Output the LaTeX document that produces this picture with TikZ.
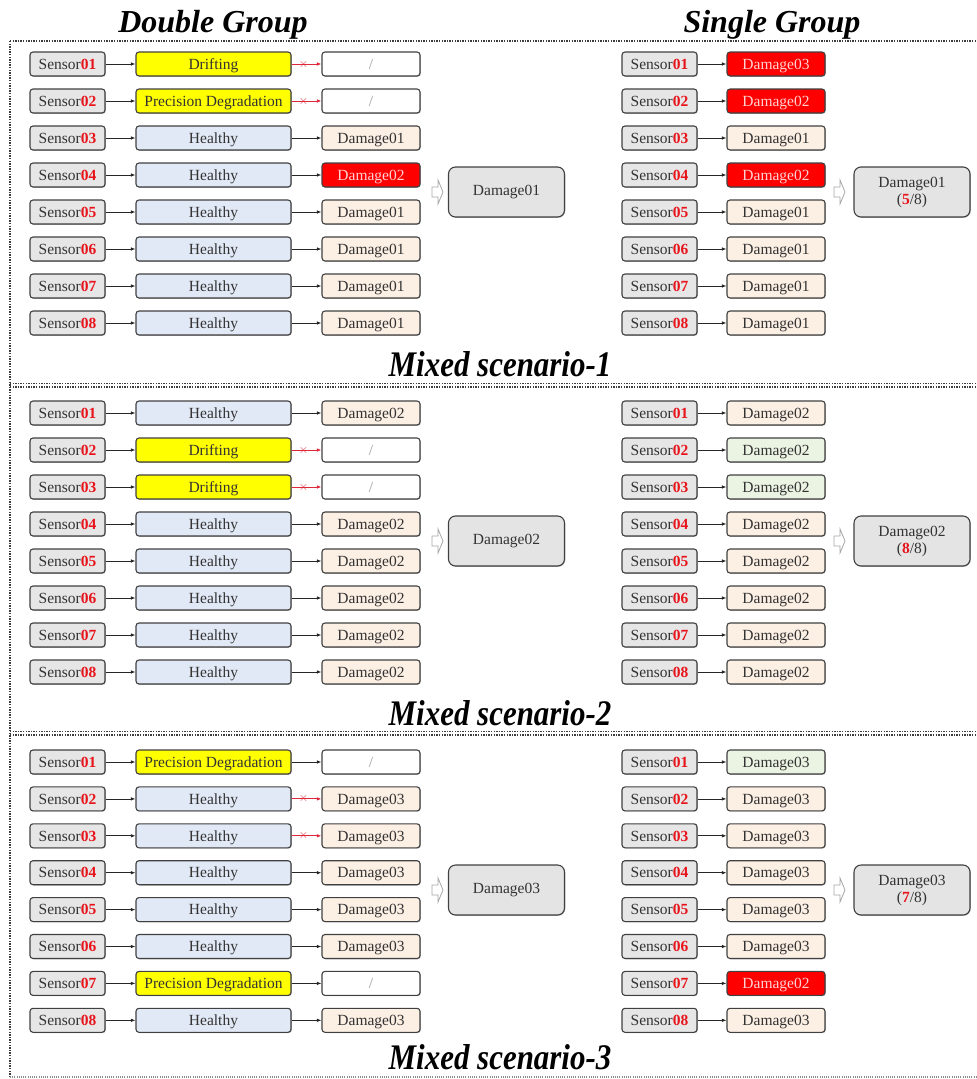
\documentclass[tikz,border=0pt]{standalone}
\usepackage{fontspec}
\setmainfont{Liberation Serif}
\usetikzlibrary{arrows.meta,shadows}
\definecolor{cgray}{HTML}{E6E6E6}
\definecolor{cfinal}{HTML}{E4E4E4}
\definecolor{cblue}{HTML}{E2E9F6}
\definecolor{cyellow}{HTML}{FFFF00}
\definecolor{cpeach}{HTML}{FCEFE4}
\definecolor{cgreen}{HTML}{EBF4E3}
\definecolor{cred}{HTML}{FF0000}
\definecolor{cnum}{HTML}{E8141C}
\definecolor{ctxt}{HTML}{333333}
\definecolor{cpink}{HTML}{FFD2D2}
\definecolor{cslash}{HTML}{A0A0A0}
\definecolor{cframe}{HTML}{3C3C3C}
\definecolor{cbad}{HTML}{E0283A}
\newcommand\sens[1]{Sensor\textbf{\textcolor{cnum}{0#1}}}
\newcommand\slashmark{\textcolor{cslash}{/}}
\newcommand\hollowarrow[2]{%
  \draw[draw=black!35,fill=white,line width=0.8pt]
    (#1,#2-5) -- (#1+6,#2-5) -- (#1+6,#2-12) -- (#1+11,#2) -- (#1+6,#2+12) -- (#1+6,#2+5) -- (#1,#2+5) -- cycle;}
\begin{document}
\begin{tikzpicture}[x=1pt,y=-1pt,
  box/.style={draw=black!75, line width=1.1pt, rounded corners=3pt, minimum height=24pt,
    inner sep=0pt, text height=10.5pt, text depth=0pt, font=\fontsize{15.5}{18}\selectfont, text=ctxt,
    drop shadow={shadow xshift=0.8pt, shadow yshift=-0.8pt, fill=black, opacity=0.25}},
  sensor/.style={box, fill=cgray, minimum width=75pt},
  status/.style={box, minimum width=155pt},
  dmg/.style={box, minimum width=98pt},
  final/.style={box, minimum width=116pt, minimum height=50pt, rounded corners=7pt, fill=cfinal, align=center,
    text height=, text depth=, font=\fontsize{15.5}{17}\selectfont},
  okarrow/.style={-{Latex[length=4.5pt,width=3.5pt]}, line width=0.8pt, black!85},
  badarrow/.style={-{Latex[length=4.5pt,width=3.5pt]}, line width=0.9pt, cbad},
  cross/.style={pos=0.4, inner sep=0pt, text=cbad, font=\fontsize{12}{12}\selectfont},
  ttl/.style={font=\fontsize{32}{32}\selectfont\bfseries\itshape, text=black, inner sep=0pt, anchor=base},
  scen/.style={font=\fontsize{36}{36}\selectfont\bfseries\itshape, text=black, inner sep=0pt, anchor=base},
  frame/.style={cframe, line width=1.8pt, dash pattern=on 1.3pt off 1.3pt}
]
\useasboundingbox (0,0) rectangle (977,1079);
% titles
\node[ttl] (tdouble) at (213,32) {Double Group};
\node[ttl] (tsingle) at (772,32) {Single Group};
\node[scen] (m1) at (500,376) {\scalebox{0.86}[1]{Mixed scenario-1}};
\node[scen] (m2) at (500,725) {\scalebox{0.86}[1]{Mixed scenario-2}};
\node[scen] (m3) at (500,1069) {\scalebox{0.86}[1]{Mixed scenario-3}};
% frame
\draw[frame] (10,41) -- (977,41);
\draw[frame] (10,41) -- (10,1077);
\draw[frame] (10,383.5) -- (977,383.5);
\draw[frame] (10,387) -- (977,387);
\draw[frame] (10,731.5) -- (977,731.5);
\draw[frame] (10,735) -- (977,735);
\draw[black!45, line width=1.1pt, dash pattern=on 1pt off 1.2pt] (10,1077) -- (977,1077);

% ---------- Section 1 ----------
\def\yz{64}
\foreach \i/\st/\sf/\dt/\df/\dtc/\x in {
  1/Drifting/cyellow/\slashmark/white/ctxt/1,
  2/Precision Degradation/cyellow/\slashmark/white/ctxt/1,
  3/Healthy/cblue/Damage01/cpeach/ctxt/0,
  4/Healthy/cblue/Damage02/cred/cpink/0,
  5/Healthy/cblue/Damage01/cpeach/ctxt/0,
  6/Healthy/cblue/Damage01/cpeach/ctxt/0,
  7/Healthy/cblue/Damage01/cpeach/ctxt/0,
  8/Healthy/cblue/Damage01/cpeach/ctxt/0}{
  \pgfmathsetmacro\yy{\yz+37*(\i-1)}
  \node[sensor] (a1s\i) at (67.5,\yy) {\sens{\i}};
  \node[status, fill=\sf] (a1t\i) at (213.5,\yy) {\st};
  \node[dmg, fill=\df, text=\dtc] (a1d\i) at (371,\yy) {\dt};
  \draw[okarrow] (a1s\i) -- (a1t\i);
  \ifnum\x=1
    \draw[badarrow] (a1t\i) -- (a1d\i) node[cross] {$\times$};
  \else
    \draw[okarrow] (a1t\i) -- (a1d\i);
  \fi
}
\foreach \i/\dt/\df/\dtc in {
  1/Damage03/cred/cpink, 2/Damage02/cred/cpink, 3/Damage01/cpeach/ctxt, 4/Damage02/cred/cpink,
  5/Damage01/cpeach/ctxt, 6/Damage01/cpeach/ctxt, 7/Damage01/cpeach/ctxt, 8/Damage01/cpeach/ctxt}{
  \pgfmathsetmacro\yy{\yz+37*(\i-1)}
  \node[sensor] (b1s\i) at (659.5,\yy) {\sens{\i}};
  \node[dmg, fill=\df, text=\dtc] (b1d\i) at (776,\yy) {\dt};
  \draw[okarrow] (b1s\i) -- (b1d\i);
}
\hollowarrow{432}{192}
\node[final] (a1f) at (506.5,192) {Damage01};
\hollowarrow{834}{192}
\node[final] (b1f) at (912,192) {Damage01\\(\textbf{\textcolor{cnum}{5}}/8)};

% ---------- Section 2 ----------
\def\yz{413}
\foreach \i/\st/\sf/\dt/\df/\dtc/\x in {
  1/Healthy/cblue/Damage02/cpeach/ctxt/0,
  2/Drifting/cyellow/\slashmark/white/ctxt/1,
  3/Drifting/cyellow/\slashmark/white/ctxt/1,
  4/Healthy/cblue/Damage02/cpeach/ctxt/0,
  5/Healthy/cblue/Damage02/cpeach/ctxt/0,
  6/Healthy/cblue/Damage02/cpeach/ctxt/0,
  7/Healthy/cblue/Damage02/cpeach/ctxt/0,
  8/Healthy/cblue/Damage02/cpeach/ctxt/0}{
  \pgfmathsetmacro\yy{\yz+37*(\i-1)}
  \node[sensor] (a2s\i) at (67.5,\yy) {\sens{\i}};
  \node[status, fill=\sf] (a2t\i) at (213.5,\yy) {\st};
  \node[dmg, fill=\df, text=\dtc] (a2d\i) at (371,\yy) {\dt};
  \draw[okarrow] (a2s\i) -- (a2t\i);
  \ifnum\x=1
    \draw[badarrow] (a2t\i) -- (a2d\i) node[cross] {$\times$};
  \else
    \draw[okarrow] (a2t\i) -- (a2d\i);
  \fi
}
\foreach \i/\dt/\df/\dtc in {
  1/Damage02/cpeach/ctxt, 2/Damage02/cgreen/ctxt, 3/Damage02/cgreen/ctxt, 4/Damage02/cpeach/ctxt,
  5/Damage02/cpeach/ctxt, 6/Damage02/cpeach/ctxt, 7/Damage02/cpeach/ctxt, 8/Damage02/cpeach/ctxt}{
  \pgfmathsetmacro\yy{\yz+37*(\i-1)}
  \node[sensor] (b2s\i) at (659.5,\yy) {\sens{\i}};
  \node[dmg, fill=\df, text=\dtc] (b2d\i) at (776,\yy) {\dt};
  \draw[okarrow] (b2s\i) -- (b2d\i);
}
\hollowarrow{432}{541}
\node[final] (a2f) at (506.5,541) {Damage02};
\hollowarrow{834}{541}
\node[final] (b2f) at (912,541) {Damage02\\(\textbf{\textcolor{cnum}{8}}/8)};

% ---------- Section 3 ----------
\def\yz{762}
\foreach \i/\st/\sf/\dt/\df/\dtc/\x in {
  1/Precision Degradation/cyellow/\slashmark/white/ctxt/0,
  2/Healthy/cblue/Damage03/cpeach/ctxt/1,
  3/Healthy/cblue/Damage03/cpeach/ctxt/1,
  4/Healthy/cblue/Damage03/cpeach/ctxt/0,
  5/Healthy/cblue/Damage03/cpeach/ctxt/0,
  6/Healthy/cblue/Damage03/cpeach/ctxt/0,
  7/Precision Degradation/cyellow/\slashmark/white/ctxt/0,
  8/Healthy/cblue/Damage03/cpeach/ctxt/0}{
  \pgfmathsetmacro\yy{\yz+36.9*(\i-1)}
  \node[sensor] (a3s\i) at (67.5,\yy) {\sens{\i}};
  \node[status, fill=\sf] (a3t\i) at (213.5,\yy) {\st};
  \node[dmg, fill=\df, text=\dtc] (a3d\i) at (371,\yy) {\dt};
  \draw[okarrow] (a3s\i) -- (a3t\i);
  \ifnum\x=1
    \draw[badarrow] (a3t\i) -- (a3d\i) node[cross] {$\times$};
  \else
    \draw[okarrow] (a3t\i) -- (a3d\i);
  \fi
}
\foreach \i/\dt/\df/\dtc in {
  1/Damage03/cgreen/ctxt, 2/Damage03/cpeach/ctxt, 3/Damage03/cpeach/ctxt, 4/Damage03/cpeach/ctxt,
  5/Damage03/cpeach/ctxt, 6/Damage03/cpeach/ctxt, 7/Damage02/cred/cpink, 8/Damage03/cpeach/ctxt}{
  \pgfmathsetmacro\yy{\yz+36.9*(\i-1)}
  \node[sensor] (b3s\i) at (659.5,\yy) {\sens{\i}};
  \node[dmg, fill=\df, text=\dtc] (b3d\i) at (776,\yy) {\dt};
  \draw[okarrow] (b3s\i) -- (b3d\i);
}
\hollowarrow{432}{890}
\node[final] (a3f) at (506.5,890) {Damage03};
\hollowarrow{834}{890}
\node[final] (b3f) at (912,890) {Damage03\\(\textbf{\textcolor{cnum}{7}}/8)};
\end{tikzpicture}
\end{document}
